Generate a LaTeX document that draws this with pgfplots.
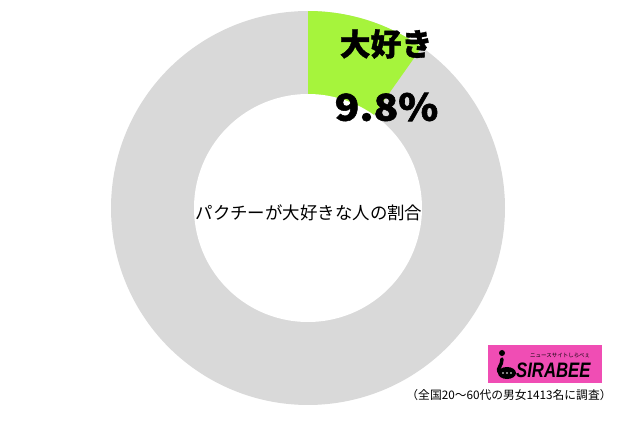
\documentclass[border=0pt]{standalone}
\usepackage{pgfplots}
\pgfplotsset{compat=1.18}
\usepackage{pgfplotstable}
\usepackage{fontspec}
\setmainfont{Noto Sans CJK JP}
\newfontfamily\latinbold{Liberation Sans}

\definecolor{likegreen}{HTML}{A6F43C}
\definecolor{restgray}{HTML}{D9D9D9}
\definecolor{logopink}{HTML}{F04DB4}

% share of respondents (percent)
\pgfplotstableread{
share
9.8
90.2
}\sharetable
\pgfplotstablegetelem{0}{share}\of\sharetable
\let\likeshare\pgfplotsretval

% donut geometry (in page units)
\def\cx{308}
\def\cy{214}
\def\ro{197}
\def\ri{114}

\begin{document}
\begin{tikzpicture}
\pgfmathsetmacro{\endangle}{90-3.6*\likeshare}
\begin{axis}[
  at={(0,0)}, anchor=origin,
  x=1bp, y=1bp, scale only axis,
  xmin=0, xmax=621, ymin=0, ymax=422,
  hide axis, clip=false,
]
% full ring background
\addplot[draw=none, fill=restgray, domain=0:360, samples=241, variable=\t]
  ({\cx+\ro*cos(\t)}, {\cy+\ro*sin(\t)}) -- cycle;
% highlighted share, clockwise from 12 o'clock
\addplot[draw=none, fill=likegreen, domain=\endangle:90, samples=60, variable=\t]
  ({\cx+\ro*cos(\t)}, {\cy+\ro*sin(\t)}) -- (axis cs:\cx,\cy) -- cycle;
% hole
\addplot[draw=none, fill=white, domain=0:360, samples=241, variable=\t]
  ({\cx+\ri*cos(\t)}, {\cy+\ri*sin(\t)}) -- cycle;

\node[font=\fontsize{31}{31}\selectfont\bfseries\addfontfeature{FakeBold=1.2}, inner sep=0] at (axis cs:386,378) {大好き};
\node[font=\fontsize{37}{37}\selectfont\bfseries\addfontfeature{FakeBold=1.5}, inner sep=0, xscale=1.1] at (axis cs:386.5,315) {\likeshare\%};
\node[font=\fontsize{17.5}{17.5}\selectfont, inner sep=0] at (axis cs:309,209) {パクチーが大好きな人の割合};

% logo
\fill[logopink] (axis cs:488,39) rectangle (axis cs:602,77);
\fill[black] (axis cs:502,69) circle[radius=3bp];
\draw[black, line width=3.5bp, line cap=round] (axis cs:502,63) .. controls (axis cs:502,56) and (axis cs:497,54) .. (axis cs:499,50);
\fill[black] (axis cs:507,49) ellipse[x radius=9bp, y radius=6bp];
\fill[white] (axis cs:503,49) circle[radius=0.9bp] (axis cs:507,49) circle[radius=0.9bp] (axis cs:511,49) circle[radius=0.9bp];
\node[font=\latinbold\fontsize{21}{21}\selectfont\bfseries\itshape, inner sep=0, anchor=base west, xscale=0.8] at (axis cs:516,45) {SIRABEE};
\node[font=\fontsize{5.5}{5.5}\selectfont, inner sep=0, anchor=west] at (axis cs:530,66) {ニュースサイトしらべぇ};

\node[font=\fontsize{11.8}{11.8}\selectfont, inner sep=0] at (axis cs:509,27) {（全国20〜60代の男女1413名に調査）};
\end{axis}
\useasboundingbox (0,0) rectangle (621bp,422bp);
\end{tikzpicture}
\end{document}
